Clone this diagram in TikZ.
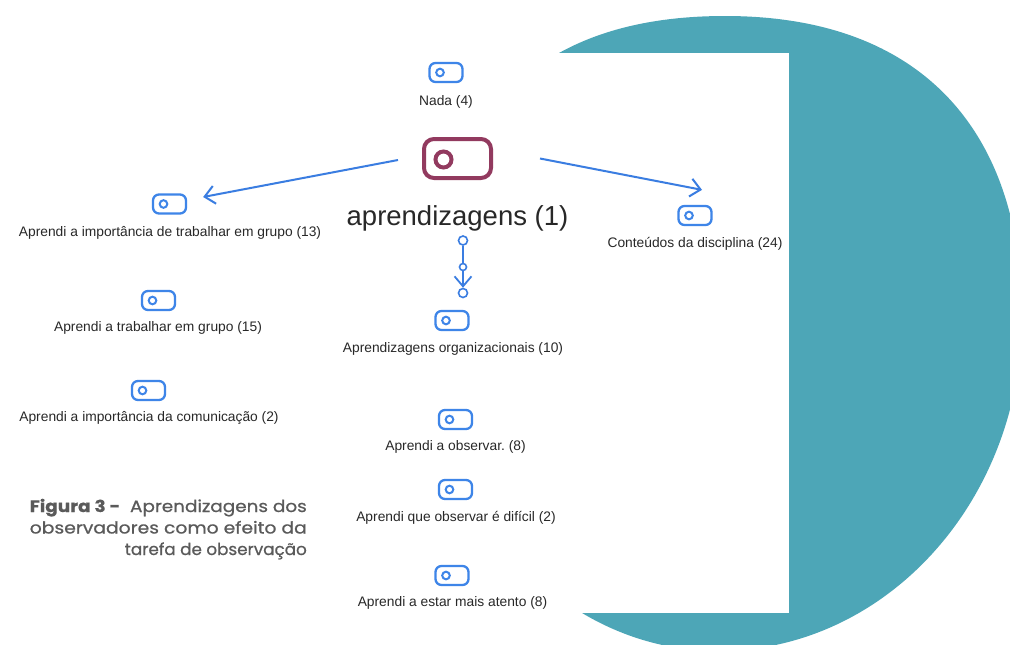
\documentclass[tikz,border=0pt]{standalone}
\usepackage{fontspec}
\setmainfont{Liberation Sans}
\newfontfamily\capfont[FakeBold=0.7]{Poppins}
\usetikzlibrary{arrows.meta,calc}
\definecolor{teal1}{RGB}{77,166,183}
\definecolor{iblue}{RGB}{62,133,232}
\definecolor{lblue}{RGB}{58,125,225}
\definecolor{maroon1}{RGB}{146,58,95}
\definecolor{txt}{RGB}{40,40,40}
\definecolor{capgray}{RGB}{90,90,90}
\begin{document}
\begin{tikzpicture}[x=1pt,y=-1pt,
  icon/.style={draw=iblue, line width=2.3pt, rounded corners=6pt,
    minimum width=33pt, minimum height=19pt, inner sep=0pt,
    path picture={\draw[iblue,line width=2pt] ([xshift=-6pt]path picture bounding box.center) circle (3.8pt);}},
  bigicon/.style={draw=maroon1, line width=4pt, rounded corners=10pt,
    minimum width=67pt, minimum height=39pt, inner sep=0pt,
    path picture={\draw[maroon1,line width=4pt] ([xshift=-14pt,yshift=-1pt]path picture bounding box.center) circle (8pt);}},
  lbl/.style={font=\fontsize{13.8}{16}\selectfont, text=txt, anchor=base, inner sep=0pt},
  captext/.style={font=\capfont\fontsize{16.5}{20}\selectfont, text=capgray, anchor=base east, inner sep=0pt},
  link/.style={draw=lblue, line width=2pt, -{Straight Barb[length=10pt,width=18pt]}},
  dot/.style={circle, draw=lblue, line width=1.6pt, fill=white, inner sep=0pt},
]
\useasboundingbox (0,0) rectangle (1010,645);
\clip (0,0) rectangle (1010,645);
\fill[white] (0,0) rectangle (1010,645);
% teal disc
\fill[teal1] (725,16) .. controls (930,16) and (1022,140) .. (1022,316)
  .. controls (1022,501) and (886,651) .. (718,651)
  .. controls (559,651) and (430,507) .. (430,330)
  .. controls (430,140) and (515,16) .. (725,16) -- cycle;
\fill[white] (0,53) rectangle (789,613);

% nodes
\node[icon] (nadaI) at (446,72.5) {};
\node[lbl] (nadaL) at (446,105) {Nada (4)};

\node[bigicon] (bigI) at (457.5,158.5) {};
\node[lbl, font=\fontsize{27.5}{30}\selectfont] (bigL) at (457.5,225) {aprendizagens (1)};

\node[icon] (impI) at (169.5,204) {};
\node[lbl] (impL) at (170,236) {Aprendi a importância de trabalhar em grupo (13)};

\node[icon] (contI) at (695,215.5) {};
\node[lbl] (contL) at (695,247) {Conteúdos da disciplina (24)};

\node[icon] (trabI) at (158.5,300.5) {};
\node[lbl] (trabL) at (158,331) {Aprendi a trabalhar em grupo (15)};

\node[icon] (orgI) at (452,320.5) {};
\node[lbl] (orgL) at (453,352) {Aprendizagens organizacionais (10)};

\node[icon] (comI) at (148.5,390.5) {};
\node[lbl] (comL) at (149,421) {Aprendi a importância da comunicação (2)};

\node[icon] (obsI) at (455.5,419.5) {};
\node[lbl] (obsL) at (455.5,450) {Aprendi a observar.\ (8)};

\node[icon] (difI) at (455.5,489.5) {};
\node[lbl] (difL) at (456,521) {Aprendi que observar é difícil (2)};

\node[icon] (atI) at (452,575.5) {};
\node[lbl] (atL) at (452.5,606) {Aprendi a estar mais atento (8)};

% connectors
\draw[link] ($(bigI.west)+(-24,1.5)$) -- ($(impI.east)+(16,-7)$);
\draw[link] ($(bigI.east)+(47,0)$) -- ($(contI.north)+(7,-15)$);

\node[dot, minimum size=9pt] (c1) at (463,240.5) {};
\node[dot, minimum size=7pt] (c2) at (463,267) {};
\node[dot, minimum size=9pt] (c3) at (463,293) {};
\draw[draw=lblue, line width=1.8pt] (c1) -- (c2);
\draw[draw=lblue, line width=1.8pt, -{Straight Barb[length=10pt,width=17pt]}] (c2) -- (c3);

% caption
\node[captext] (cap1) at (307,512) {\resizebox{277pt}{\height}{{\bfseries Figura 3 -}\ \ Aprendizagens dos}};
\node[captext] (cap2) at (307,533.5) {\resizebox{277pt}{\height}{observadores como efeito da}};
\node[captext] (cap3) at (307,555) {\resizebox{182pt}{\height}{tarefa de observação}};
\end{tikzpicture}
\end{document}
